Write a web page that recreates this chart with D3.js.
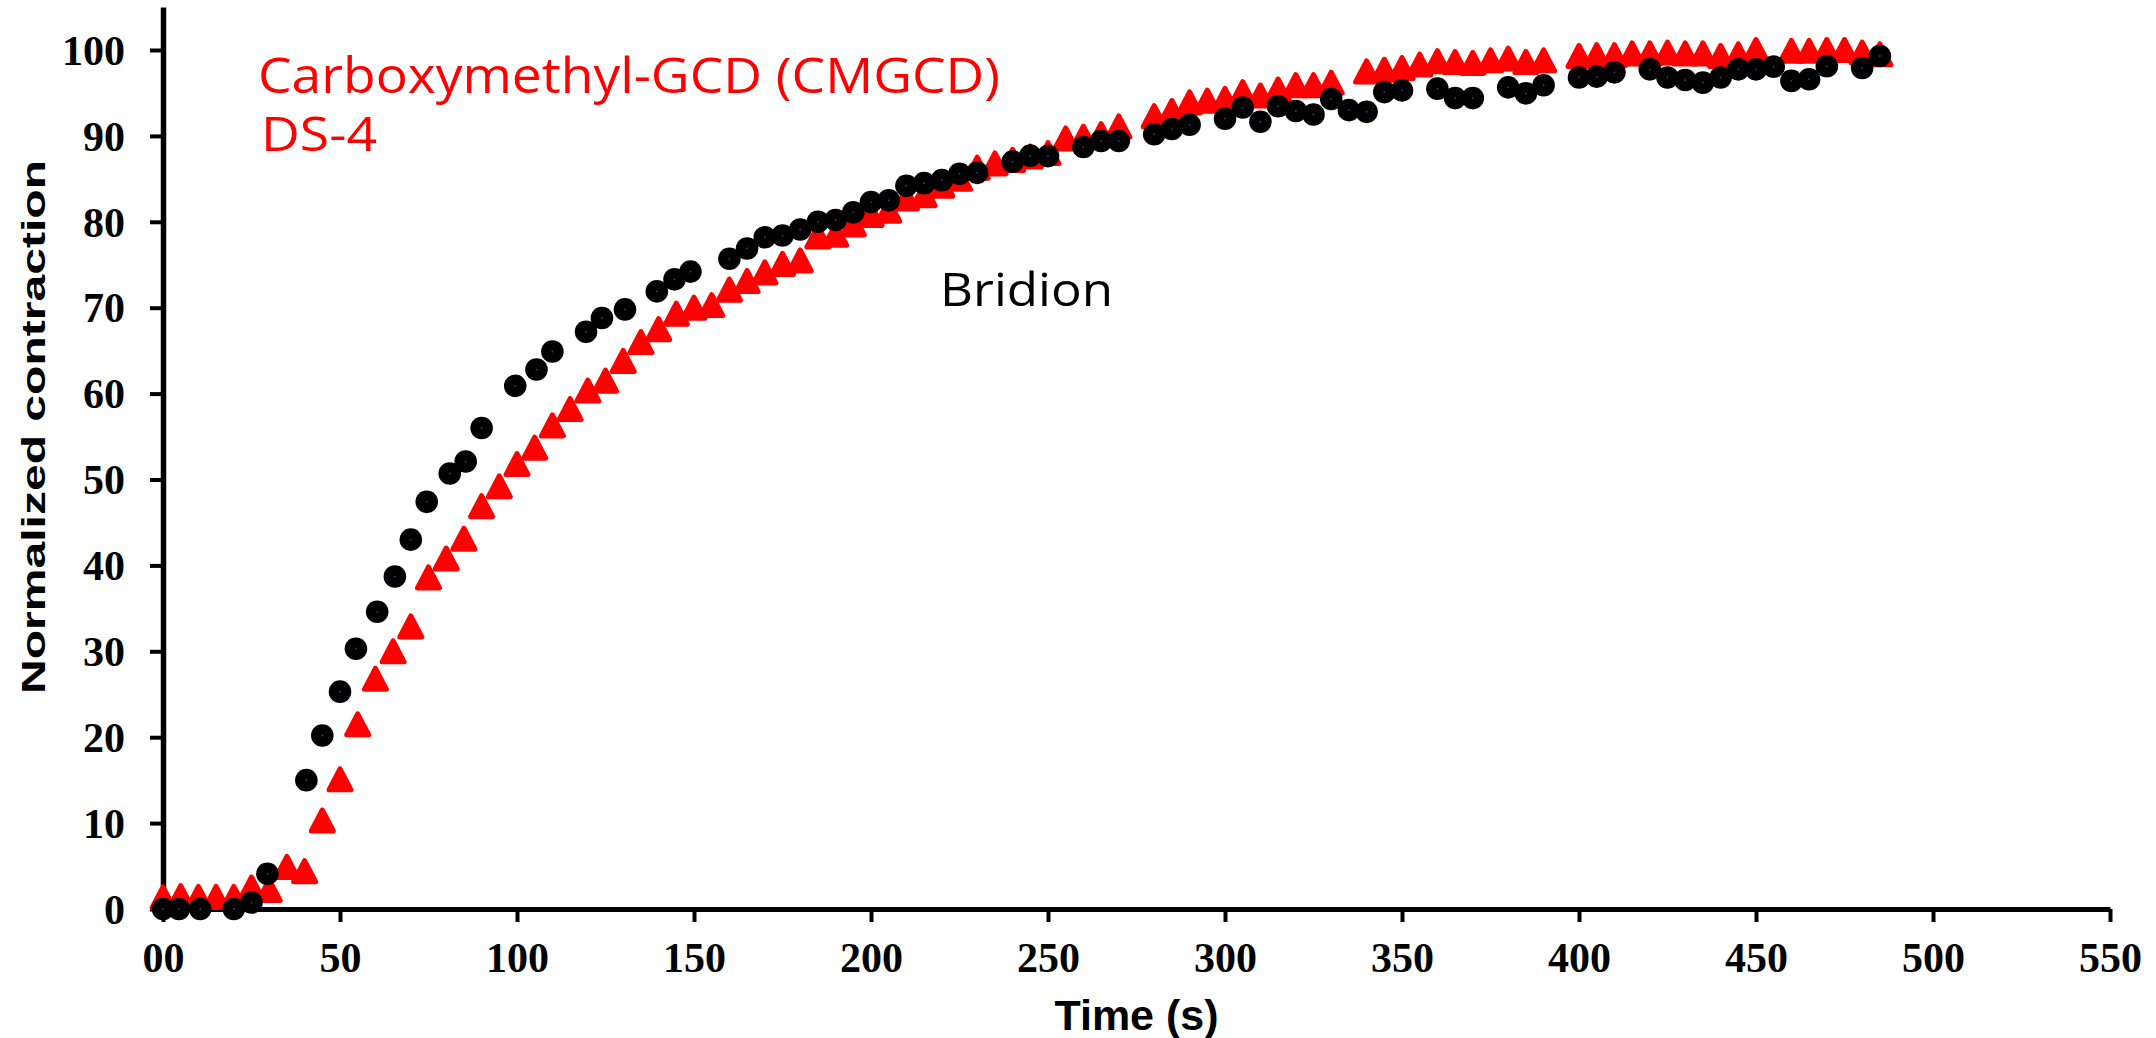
<!DOCTYPE html>
<html>
<head>
<meta charset="utf-8">
<script src="https://cdn.jsdelivr.net/npm/d3@7"></script>
<style>
  body { margin: 0; background: #fff; }
  svg { display: block; }
</style>
</head>
<body>
<div id="chart"></div>
<script>
// Bridion (black circles)
var bridionTime = [0, 4.5, 10.5, 20, 25, 29.5, 40.5, 45, 50, 54.5, 60.5, 65.5, 70, 74.5, 81, 85.5, 90,
  99.5, 105.5, 110, 119.5, 124, 130.5, 139.5, 144.5, 149, 160, 165, 170, 175, 180, 185, 190, 195,
  200, 205, 210, 215, 220, 225, 230, 240, 245, 250, 260, 265, 270, 280, 285, 290, 300, 305, 310,
  315, 320, 325, 330, 335, 340, 345, 350, 360, 365, 370, 380, 385, 390, 400, 405, 410, 420, 425,
  430, 435, 440, 445, 450, 455, 460, 465, 470, 480, 485]
var bridionValue = [0, 0, 0, 0, 0.75, 4.1, 15.0, 20.2, 25.3, 30.3, 34.6, 38.7, 43.0, 47.4, 50.7, 52.1, 56.0,
  60.9, 62.8, 64.9, 67.2, 68.8, 69.8, 71.9, 73.3, 74.2, 75.7, 76.9, 78.2, 78.4, 79.1, 80.0, 80.2, 81.1,
  82.3, 82.5, 84.2, 84.5, 84.85, 85.6, 85.7, 87.0, 87.7, 87.65, 88.7, 89.4, 89.4, 90.2, 90.8, 91.3, 92.0, 93.3, 91.65,
  93.45, 92.9, 92.5, 94.3, 93.0, 92.8, 95.1, 95.3, 95.5, 94.4, 94.4, 95.65, 94.95, 95.9, 96.8, 96.9, 97.4, 97.75, 96.8,
  96.5, 96.2, 96.8, 97.75, 97.75, 98.06, 96.4, 96.6, 98.1, 97.9, 99.3]

// Carboxymethyl-GCD (CMGCD) DS-4 (red triangles)
var cmgcdTime = [0, 5, 10, 15, 20, 25, 30, 35, 40, 45, 50, 55, 60, 65, 70, 75, 80, 85, 90, 95, 100,
  105, 110, 115, 120, 125, 130, 135, 140, 145, 150, 155, 160, 165, 170, 175, 180, 185, 190, 195, 200,
  205, 210, 215, 220, 225, 230, 235, 240, 245, 250, 255, 260, 265, 270, 280, 285, 290, 295, 300, 305,
  310, 315, 320, 325, 330, 340, 345, 350, 355, 360, 365, 370, 375, 380, 385, 390, 400, 405, 410, 415,
  420, 425, 430, 435, 440, 445, 450, 460, 465, 470, 475, 480, 485]
var cmgcdValue = [1.35, 1.5, 1.4, 1.4, 1.4, 2.5, 2.2, 4.9, 4.4, 10.3, 15.1, 21.5, 26.8, 30.0, 32.9, 38.6, 40.8, 43.1, 46.9, 49.2, 51.8,
  53.7, 56.3, 58.2, 60.35, 61.5, 63.8, 66.0, 67.5, 69.3, 70.0, 70.3, 72.1, 73.1, 74.1, 75.1, 75.5, 78.3, 78.5, 79.7, 80.8,
  81.3, 82.7, 83.1, 84.2, 85.0, 86.3, 86.8, 87.2, 87.6, 88.0, 89.7, 89.9, 90.2, 91.1, 92.3, 92.9, 93.9, 94.1, 94.3, 95.1,
  94.7, 95.4, 95.9, 95.9, 96.2, 97.5, 97.7, 97.9, 98.3, 98.7, 98.6, 98.5, 98.8, 99.0, 98.6, 98.8, 99.3, 99.4, 99.4, 99.6,
  99.6, 99.7, 99.6, 99.6, 99.3, 99.5, 100, 99.9, 99.9, 100, 100, 99.7, 99.5]

var xTicks = [0, 50, 100, 150, 200, 250, 300, 350, 400, 450, 500, 550]
var xTickLabels = ["00", "50", "100", "150", "200", "250", "300", "350", "400", "450", "500", "550"]
var yTicks = [0, 10, 20, 30, 40, 50, 60, 70, 80, 90, 100]

var width = 2156, height = 1038

var svg = d3.select("#chart").append("svg")
    .attr("width", width)
    .attr("height", height)

var x = d3.scaleLinear().domain([0, 550]).range([163, 2110])
var y = d3.scaleLinear().domain([0, 105]).range([909, 7.05])

var bridion = bridionTime.map(function(t, i){ return {t: t, v: bridionValue[i]} })
var cmgcd = cmgcdTime.map(function(t, i){ return {t: t, v: cmgcdValue[i]} })

// ===== axes =====
var xAxis = svg.append("g")
    .attr("transform", "translate(0," + y(0) + ")")
    .call(d3.axisBottom(x).tickValues(xTicks)
        .tickFormat(function(d, i){ return xTickLabels[i] })
        .tickSize(13).tickSizeOuter(0))
xAxis.select(".domain").attr("stroke-width", 5).attr("stroke", "#000")
xAxis.selectAll(".tick line").attr("stroke-width", 4)
xAxis.selectAll(".tick text")
    .attr("y", 63).attr("dy", 0)
    .style("font-family", "'Liberation Serif', 'Times New Roman', serif")
    .style("font-weight", "bold")
    .style("font-size", "42px")
    .attr("fill", "#000")

var yAxis = svg.append("g")
    .attr("transform", "translate(" + x(0) + ",0)")
    .call(d3.axisLeft(y).tickValues(yTicks).tickSize(13).tickSizeOuter(0).tickPadding(25))
yAxis.select(".domain").attr("stroke-width", 5.5).attr("stroke", "#000")
yAxis.selectAll(".tick line").attr("stroke-width", 4)
yAxis.selectAll(".tick text")
    .attr("dy", "0.34em")
    .style("font-family", "'Liberation Serif', 'Times New Roman', serif")
    .style("font-weight", "bold")
    .style("font-size", "42px")
    .attr("fill", "#000")

// axis titles
svg.append("text")
    .attr("x", (x(0) + x(550)) / 2)
    .attr("y", 1030)
    .attr("text-anchor", "middle")
    .style("font-family", "'Liberation Sans', Arial, sans-serif")
    .style("font-weight", "bold")
    .style("font-size", "43px")
    .text("Time (s)")

svg.append("text")
    .attr("transform", "translate(45,427)rotate(-90)")
    .attr("text-anchor", "middle")
    .attr("textLength", 534)
    .attr("lengthAdjust", "spacingAndGlyphs")
    .style("font-family", "'Liberation Sans', Arial, sans-serif")
    .style("font-weight", "bold")
    .style("font-size", "34px")
    .text("Normalized contraction")

// ===== markers =====
var tri = "M0,-10.5L11,10.5L-11,10.5Z"
svg.append("g").selectAll("path")
    .data(cmgcd)
    .enter()
    .append("path")
        .attr("d", tri)
        .attr("transform", function(d){ return "translate(" + x(d.t) + "," + y(d.v) + ")" })
        .attr("fill", "#ff0000")
        .attr("stroke", "#ff0000")
        .attr("stroke-width", 5)
        .attr("stroke-linejoin", "round")

var dots = svg.append("g").selectAll("g")
    .data(bridion)
    .enter()
    .append("g")
        .attr("transform", function(d){ return "translate(" + x(d.t) + "," + y(d.v) + ")" })
dots.append("circle").attr("r", 11.3).attr("fill", "#000")
dots.append("circle").attr("r", 0.9).attr("fill", "#3a3aa8")

// ===== labels =====
var labelFont = "'Open Sans', 'Noto Sans', sans-serif"
svg.append("text")
    .attr("x", 258).attr("y", 92.7)
    .attr("textLength", 742)
    .attr("lengthAdjust", "spacingAndGlyphs")
    .style("font-family", labelFont)
    .style("font-weight", 500)
    .style("font-size", "49px")
    .attr("fill", "#ff0000")
    .text("Carboxymethyl-GCD (CMGCD)")
svg.append("text")
    .attr("x", 261).attr("y", 151)
    .attr("textLength", 116)
    .attr("lengthAdjust", "spacingAndGlyphs")
    .style("font-family", labelFont)
    .style("font-weight", 500)
    .style("font-size", "47px")
    .attr("fill", "#ff0000")
    .text("DS-4")
svg.append("text")
    .attr("x", 940).attr("y", 306)
    .attr("textLength", 173)
    .attr("lengthAdjust", "spacingAndGlyphs")
    .style("font-family", labelFont)
    .style("font-weight", 500)
    .style("font-size", "46px")
    .attr("fill", "#000")
    .text("Bridion")
</script>
</body>
</html>
